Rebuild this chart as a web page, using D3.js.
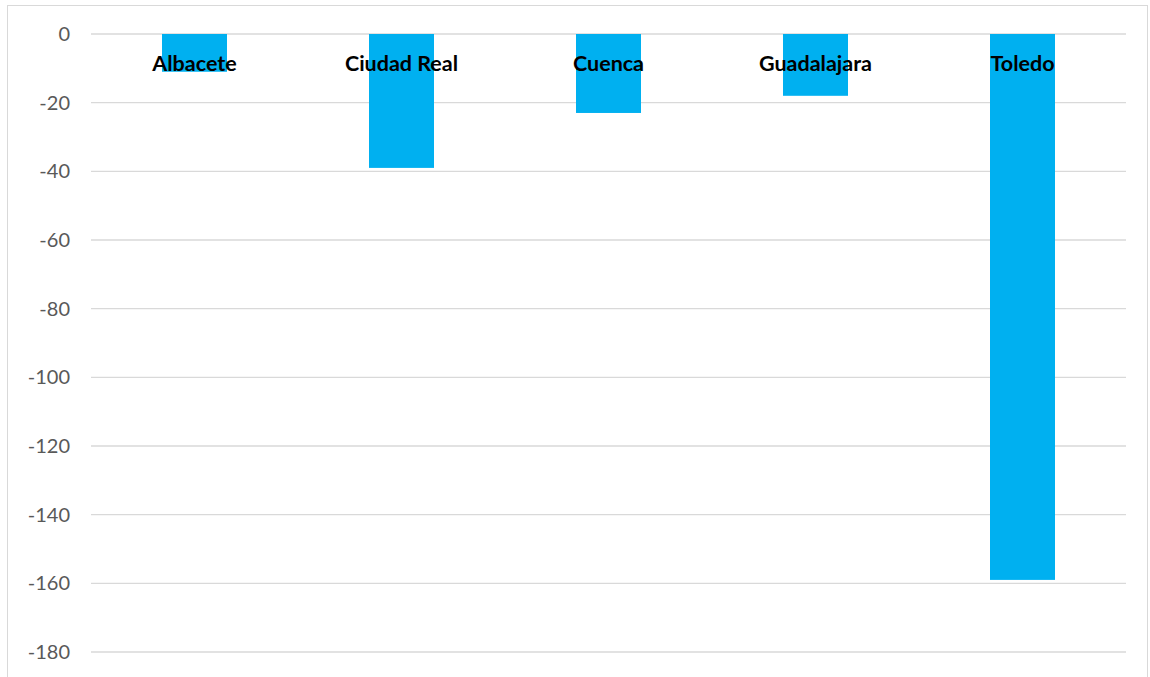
<!DOCTYPE html>
<html><head><meta charset="utf-8">
<script src="https://cdn.jsdelivr.net/npm/d3@7"></script>
<style>body{margin:0;background:#fff}svg{display:block}</style>
</head><body>
<svg id="c" width="1150" height="677"></svg>
<script>
const categories = ["Albacete","Ciudad Real","Cuenca","Guadalajara","Toledo"];
const values = [-11,-39,-23,-18,-159];
const yTicks = [0,-20,-40,-60,-80,-100,-120,-140,-160,-180];

const svg = d3.select("#c");
svg.append("rect").attr("x",7.5).attr("y",5.5).attr("width",1140).attr("height",700)
  .attr("fill","#fff").attr("stroke","#d9d9d9").attr("stroke-width",1);

const x = d3.scaleBand().domain(categories).range([91,1126]).paddingInner(0.686).paddingOuter(0.343);
const y = d3.scaleLinear().domain([-180,0]).range([652,34]);

const grid = svg.append("g");
grid.selectAll("line").data(yTicks).join("line")
  .attr("x1",91).attr("x2",1126).attr("y1",d=>y(d)).attr("y2",d=>y(d))
  .attr("stroke","#d9d9d9").attr("stroke-width",1.3);

const yAxis = d3.axisLeft(y).tickValues(yTicks).tickSize(0).tickPadding(0).tickFormat(d=>String(d));
const ga = svg.append("g").attr("transform","translate(70,0)").call(yAxis);
ga.select(".domain").remove();
ga.selectAll("text").attr("fill","#595959").style("font-family","Lato, 'Open Sans', sans-serif").style("font-size","20px");

svg.append("g").selectAll("rect").data(values).join("rect")
  .attr("x",(d,i)=>x(categories[i])).attr("width",x.bandwidth())
  .attr("y",d=>y(Math.max(0,d))).attr("height",d=>Math.abs(y(d)-y(0)))
  .attr("fill","#00b0f0");

svg.append("g").selectAll("text").data(categories).join("text")
  .attr("x",d=>x(d)+x.bandwidth()/2).attr("y",y(0)+37)
  .attr("text-anchor","middle").attr("fill","#000")
  .style("font-family","Lato, 'Open Sans', sans-serif").style("font-weight","bold").style("font-size","21.5px")
  .text(d=>d);
</script>
</body></html>
